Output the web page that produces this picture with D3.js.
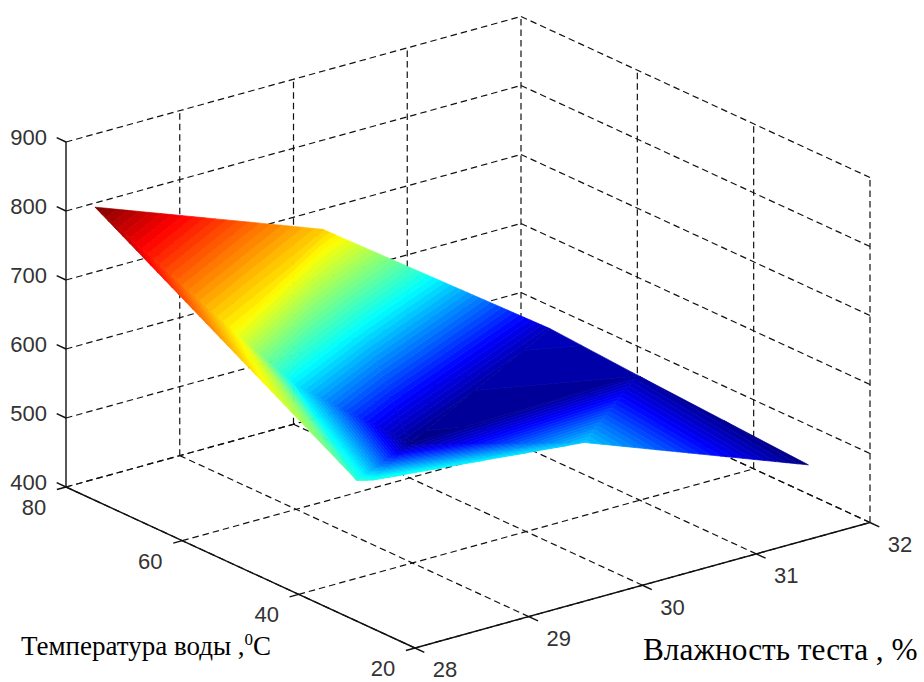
<!DOCTYPE html>
<html><head><meta charset="utf-8">
<script src="https://cdn.jsdelivr.net/npm/d3@7/dist/d3.min.js"></script>
<style>html,body{margin:0;padding:0;background:#fff}svg{display:block}</style>
</head><body><svg id="c" width="924" height="682"></svg>
<script>
const moistureTicks=[28,29,30,31,32];
const temperatureTicks=[20,40,60,80];
const strengthTicks=[400,500,600,700,800,900];
const pointMoisture=[28,30,32,28.45,29,30,32,28,30,31.97,28.14];
const pointTemperature=[75,75,75,60,60,60,60,30,30,30,30];
const pointStrength=[825,702,467,684,580,450,458,604,568,446,598];
const triangles=[[0,1,3],[0,3,7],[3,4,7],[4,5,7],[5,8,10],[5,10,7],[1,3,4],[1,4,5],[1,2,5],[2,5,6],[5,6,8],[6,8,9]];

const W=924,H=682;
const svg=d3.select('#c').attr('viewBox',[0,0,W,H]);
// oblique axes: each data axis contributes its own pixel offset
const xDx=d3.scaleLinear().domain([28,32]).range([415,870]);
const xDy=d3.scaleLinear().domain([28,32]).range([648,522.5]);
const yDx=d3.scaleLinear().domain([20,80]).range([0,-349]);
const yDy=d3.scaleLinear().domain([20,80]).range([0,-161]);
const zDy=d3.scaleLinear().domain([400,900]).range([0,-345]);
const px=(x,y,z)=>[xDx(x)+yDx(y),xDy(x)+yDy(y)+zDy(z)];

const jet=d3.scaleLinear().domain([0,.125,.375,.625,.875,1])
  .range(['#000080','#0000ff','#00ffff','#ffff00','#ff0000','#800000']);
const zMin=d3.min(pointStrength),zMax=d3.max(pointStrength),LEVELS=64;

// grid
const g=svg.append('g').attr('fill','none').attr('stroke','#111').attr('stroke-width',1.2).attr('stroke-dasharray','6.5 4');
const seg=(parent,a,b)=>parent.append('path').attr('d',d3.line()([a,b]));
moistureTicks.forEach(x=>{
  seg(g,px(x,20,400),px(x,80,400));
  if(x>28) seg(g,px(x,80,400),px(x,80,900));
});
temperatureTicks.forEach(y=>{
  seg(g,px(28,y,400),px(32,y,400));
  if(y<80) seg(g,px(32,y,400),px(32,y,900));
});
strengthTicks.forEach(z=>{
  seg(g,px(28,80,z),px(32,80,z));
  seg(g,px(32,80,z),px(32,20,z));
});

// axes
const ax=svg.append('g').attr('fill','none').attr('stroke','#111').attr('stroke-width',1.4);
seg(ax,px(28,80,400),px(28,80,900));
seg(ax,px(28,20,400),px(32,20,400));
seg(ax,px(28,20,400),px(28,80,400));
strengthTicks.forEach(z=>seg(ax,px(28,80,z),px(28,81.6,z)));
moistureTicks.forEach(x=>seg(ax,px(x,20,400),px(x,18.4,400)));
temperatureTicks.forEach(y=>seg(ax,px(28,y,400),px(27.92,y,400)));

// surface: each triangle is clipped into 64 colour bands
function clip(poly,level,keepAbove){
  const out=[];
  poly.forEach((p,i)=>{
    const q=poly[(i+1)%poly.length];
    const pin=keepAbove?p[2]>=level:p[2]<=level, qin=keepAbove?q[2]>=level:q[2]<=level;
    if(pin) out.push(p);
    if(pin!==qin){
      const t=(level-p[2])/(q[2]-p[2]);
      out.push([p[0]+(q[0]-p[0])*t,p[1]+(q[1]-p[1])*t,level]);
    }
  });
  return out;
}
const bands=[];
triangles.forEach(tri=>{
  const poly=tri.map(i=>{
    const [sx,sy]=px(pointMoisture[i],pointTemperature[i],pointStrength[i]);
    return [sx,sy,pointStrength[i]];
  });
  for(let k=0;k<LEVELS;k++){
    const lo=zMin+(zMax-zMin)*k/LEVELS,hi=zMin+(zMax-zMin)*(k+1)/LEVELS;
    let c=clip(poly,lo,true);
    if(c.length) c=clip(c,hi,false);
    if(c.length>2) bands.push({pts:c,color:jet((k+.5)/LEVELS)});
  }
});
svg.append('g').selectAll('path').data(bands).join('path')
  .attr('d',d=>d3.line()(d.pts.map(p=>[p[0],p[1]]))+'Z')
  .attr('fill',d=>d.color).attr('stroke',d=>d.color).attr('stroke-width',.7).attr('stroke-linejoin','round');

// tick labels
const lab=svg.append('g').attr('font-family','"Liberation Sans",Arial,sans-serif').attr('font-size',22).attr('fill','#333');
strengthTicks.forEach(z=>{const[a,b]=px(28,80,z);
  lab.append('text').attr('x',a-19).attr('y',b-5).attr('dy','.36em').attr('text-anchor','end').text(z);});
temperatureTicks.forEach(y=>{const[a,b]=px(28,y,400);
  lab.append('text').attr('x',a-32).attr('y',b+20).attr('dy','.36em').attr('text-anchor','middle').text(y);});
moistureTicks.forEach(x=>{const[a,b]=px(x,20,400);
  lab.append('text').attr('x',a+30).attr('y',b+21.5).attr('dy','.36em').attr('text-anchor','middle').text(x);});

// axis titles
const t1=svg.append('text').attr('x',21).attr('y',655).attr('font-family','"Liberation Serif","Times New Roman",serif').attr('font-size',27).attr('fill','#000');
t1.append('tspan').text('Температура воды ,');
t1.append('tspan').attr('font-size',17).attr('dy',-10).text('0');
t1.append('tspan').attr('dy',10).text('C');
svg.append('text').attr('x',643).attr('y',660).attr('font-family','"Liberation Serif","Times New Roman",serif').attr('font-size',31.3).attr('fill','#000').text('Влажность теста , %');
</script></body></html>
